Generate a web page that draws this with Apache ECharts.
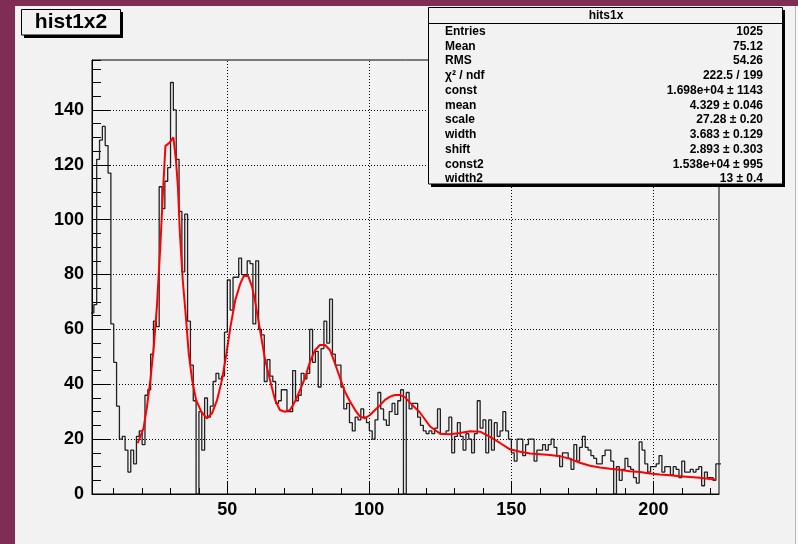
<!DOCTYPE html>
<html>
<head>
<meta charset="utf-8">
<script src="https://cdn.jsdelivr.net/npm/echarts@6/dist/echarts.min.js"></script>
<style>
html, body { margin: 0; padding: 0; background: #7f2d55; }
#chart { width: 798px; height: 544px; }
</style>
</head>
<body>
<div id="chart"></div>
<script>
// Histogram hits1x: unit-width bins, the first one starting at x = 2
const firstEdge = 2;
const binWidth = 1;
const counts = [
  66, 69, 122, 129, 134, 127, 117, 62, 48, 32, 20, 21, 16, 8, 16, 11, 21, 23, 18, 36, 38, 51, 63, 61, 112, 104, 114, 119, 150,
  140, 122, 103, 81, 102, 63, 47, 34, 0,
  30, 16, 35, 28, 32, 41, 44, 42, 43, 59, 78, 67, 79, 79, 86, 80, 80,
  85, 84, 62, 85, 60, 58,
  41, 49, 43, 41, 33, 34, 38, 38, 30, 30, 45,
  34, 36, 44, 42, 44, 60, 48, 52, 39, 53, 63, 55, 71, 51, 47, 47, 39,
  31, 33, 26, 23, 28, 27, 31, 28, 26, 23, 20, 27, 37, 31, 27, 25, 30, 33, 29, 34, 38, 0,
  37, 31, 33, 33, 28, 25, 23, 22, 23, 22, 24, 31, 22, 22, 23, 28, 15, 21, 26, 21, 16, 22, 20, 15, 22, 34, 24, 27, 15, 27, 16, 26, 21, 23,
  30, 23, 20, 15, 12, 20, 20, 14, 18, 20, 20, 12, 16, 16, 18, 16, 18, 20,
  17, 14, 10, 15, 15, 13, 9, 18, 12, 17, 21, 17, 16, 14, 13, 11, 11, 14, 16, 16, 12, 0,
  10, 5, 9, 13, 10, 9, 6, 4, 19, 16, 11, 8, 10, 10, 11, 14, 8, 10, 10, 7, 10, 9, 6, 12, 8, 8, 9, 8, 9, 10, 3, 8, 6, 6, 5, 11, 11
];

// Fitted function, sampled along the fit range
const fitX = [
  18.4, 20.5, 21.7, 22.9, 24.1, 25.2, 26.4, 27.2, 28.2, 29.6, 31.0, 31.9, 32.6, 33.3, 34.3, 35.5, 36.4, 37.6, 39.0,
  40.8, 42.8, 44.6, 46.4, 48.1, 49.5, 51.1, 52.8, 54.6, 55.8, 57.3, 58.7,
  59.7, 61.5, 63.3, 65.0, 66.8, 68.5, 70.3, 72.1, 73.8, 75.6, 77.3, 79.1, 80.9, 82.6, 84.4, 86.1, 87.9, 89.7, 91.4,
  93.2, 95.0, 96.7, 98.5, 100.2, 102.0, 103.8, 105.5, 107.3, 109.0, 110.8, 112.6,
  114.3, 117.8, 121.4, 124.9, 128.4, 131.9, 135.5, 139.0, 142.5, 146.0, 149.5, 153.1, 156.6, 160.1, 163.6, 167.1,
  170.6, 174.1, 177.7, 181.2, 184.7, 188.2, 191.7, 195.3, 198.8, 202.3, 205.8, 209.3, 212.8, 216.3, 219.9, 222.0
];
const fitY = [
  18.5, 24.0, 31.8, 41.6, 53.7, 68.3, 90.2, 107.2, 126.9, 128.0, 130.0, 121.8, 112.0, 95.0, 78.0, 63.4, 51.3, 41.6, 34.3,
  30.0, 27.6, 29.4, 34.3, 41.6, 50.0, 61.0, 70.7, 76.8, 79.5, 79.5, 75.6,
  70.7, 59.8, 48.9, 41.6, 34.3, 30.6, 30.0, 30.6, 33.7, 37.9, 42.2, 48.2, 52.5, 54.3, 54.3, 52.5, 47.6, 42.2, 37.3,
  33.7, 30.6, 28.2, 27.6, 28.8, 30.6, 32.4, 34.3, 35.5, 36.1, 36.1, 35.2,
  33.3, 29.7, 24.6, 22.0, 21.8, 22.2, 22.9, 22.7, 20.8, 18.6, 16.3, 15.4, 14.8, 14.5, 14.2, 13.8,
  12.8, 11.4, 10.3, 9.7, 9.2, 8.8, 8.3, 8.0, 7.5, 7.1, 6.8, 6.5, 6.2, 5.9, 5.5, 5.3
];

// Axis ranges and tick positions
const xMin = 2.35, xMax = 223.1;
const yMax = 158.2;
const xMajor = [50, 100, 150, 200];
const xMinor = [10, 20, 30, 40, 60, 70, 80, 90, 110, 120, 130, 140, 160, 170, 180, 190, 210, 220];
const yGrid = [20, 40, 60, 80, 100, 120, 140];

// Statistics box
const statTitle = 'hits1x';
const statNames = ['Entries', 'Mean', 'RMS', 'χ² / ndf', 'const', 'mean', 'scale', 'width', 'shift', 'const2', 'width2'];
const statValues = ['1025', '75.12', '54.26', '222.5 / 199', '1.698e+04 ± 1143', '4.329 ± 0.046',
  '27.28 ± 0.20', '3.683 ± 0.129', '2.893 ± 0.303', '1.538e+04 ± 995', '13 ± 0.4'];
const histTitle = 'hist1x2';

const FONT = '"Liberation Sans", Arial, Helvetica, sans-serif';

// outline of the histogram as a staircase over the bin edges
const stairs = [];
counts.forEach((v, i) => {
  const lo = firstEdge + i * binWidth;
  stairs.push([lo, v], [lo + binWidth, v]);
});
const fitLine = fitX.map((x, i) => [x, fitY[i]]);

const graphics = [
  { type: 'rect', z: -20, shape: { x: 15, y: 6, width: 780, height: 538 }, style: { fill: '#f2f2f2' } },
  { type: 'rect', z: -20, shape: { x: 795, y: 6, width: 3, height: 538 }, style: { fill: '#f8f8f8' } },
  { type: 'line', z: -19, shape: { x1: 795.5, y1: 6, x2: 795.5, y2: 544 }, style: { stroke: '#b8b8b8', lineWidth: 1 } },
  // title box with shadow
  { type: 'rect', z: 50, shape: { x: 24, y: 12, width: 99, height: 26 }, style: { fill: '#000' } },
  { type: 'rect', z: 51, shape: { x: 21.5, y: 9.5, width: 99, height: 25.5 }, style: { fill: '#f2f2f2', stroke: '#000', lineWidth: 1 } },
  { type: 'text', z: 52, x: 71, y: 22.5, style: { text: histTitle, font: 'bold 21px ' + FONT, fill: '#000', align: 'center', verticalAlign: 'middle' } },
  // statistics box with shadow
  { type: 'rect', z: 50, shape: { x: 431, y: 10, width: 354, height: 177 }, style: { fill: '#000' } },
  { type: 'rect', z: 51, shape: { x: 428.5, y: 7.5, width: 354, height: 176.5 }, style: { fill: '#f2f2f2', stroke: '#000', lineWidth: 1 } },
  { type: 'line', z: 52, shape: { x1: 428.5, y1: 23.5, x2: 782.5, y2: 23.5 }, style: { stroke: '#000', lineWidth: 1 } },
  { type: 'text', z: 52, x: 606, y: 15.5, style: { text: statTitle, font: 'bold 12px ' + FONT, fill: '#000', align: 'center', verticalAlign: 'middle' } }
];
statNames.forEach((name, i) => {
  const y = 31.7 + 14.73 * i;
  graphics.push({ type: 'text', z: 52, x: 445, y: y, style: { text: name, font: 'bold 12px ' + FONT, fill: '#000', align: 'left', verticalAlign: 'middle' } });
  graphics.push({ type: 'text', z: 52, x: 763, y: y, style: { text: statValues[i], font: 'bold 12px ' + FONT, fill: '#000', align: 'right', verticalAlign: 'middle' } });
});

const labelStyle = { fontFamily: FONT, fontSize: 18, fontWeight: 'bold', color: '#000' };

const chart = echarts.init(document.getElementById('chart'), null, { renderer: 'canvas' });
chart.setOption({
  animation: false,
  backgroundColor: '#7f2d55',
  grid: { left: 92, top: 60, width: 627, height: 434, show: true, backgroundColor: '#f2f2f2', borderColor: '#000', borderWidth: 1 },
  xAxis: [
    {
      type: 'value', min: xMin, max: xMax, position: 'bottom',
      axisLine: { show: true, onZero: false, lineStyle: { color: '#000', width: 1 } },
      axisTick: { show: true, inside: true, length: 6, customValues: xMinor, lineStyle: { color: '#000', width: 1 } },
      axisLabel: { show: false }, splitLine: { show: false }
    },
    {
      type: 'value', min: xMin, max: xMax, position: 'bottom',
      axisLine: { show: false, onZero: false },
      axisTick: { show: true, inside: true, length: 12, customValues: xMajor, lineStyle: { color: '#000', width: 1 } },
      axisLabel: Object.assign({ customValues: xMajor, margin: 7 }, labelStyle),
      splitLine: { show: false }
    }
  ],
  yAxis: [
    {
      type: 'value', min: 0, max: yMax, interval: 5, position: 'left',
      axisLine: { show: true, onZero: false, lineStyle: { color: '#000', width: 1 } },
      axisTick: { show: true, inside: true, length: 9, lineStyle: { color: '#000', width: 1 } },
      axisLabel: { show: false }, splitLine: { show: false }
    },
    {
      type: 'value', min: 0, max: yMax, interval: 20, position: 'left',
      axisLine: { show: false, onZero: false },
      axisTick: { show: true, inside: true, length: 19, lineStyle: { color: '#000', width: 1 } },
      axisLabel: Object.assign({ margin: 8, showMaxLabel: false }, labelStyle),
      splitLine: { show: false }
    }
  ],
  series: [
    {
      // dotted grid
      type: 'line', xAxisIndex: 0, yAxisIndex: 0, data: [], z: 1, silent: true,
      markLine: {
        silent: true, symbol: 'none', label: { show: false }, animation: false,
        lineStyle: { color: '#000', width: 1, type: [1, 2] },
        emphasis: { disabled: true },
        data: xMajor.map(v => ({ xAxis: v })).concat(yGrid.map(v => ({ yAxis: v })))
      }
    },
    {
      name: 'hits1x', type: 'line', xAxisIndex: 0, yAxisIndex: 0, z: 2,
      data: stairs, showSymbol: false, symbol: 'none', clip: true, silent: true,
      lineStyle: { color: '#222', width: 1.3 }
    },
    {
      name: 'fit', type: 'line', xAxisIndex: 0, yAxisIndex: 0, z: 3,
      data: fitLine, showSymbol: false, symbol: 'none', clip: true, silent: true,
      lineStyle: { color: '#ff0000', width: 2 }
    }
  ],
  graphic: graphics
});
</script>
</body>
</html>
